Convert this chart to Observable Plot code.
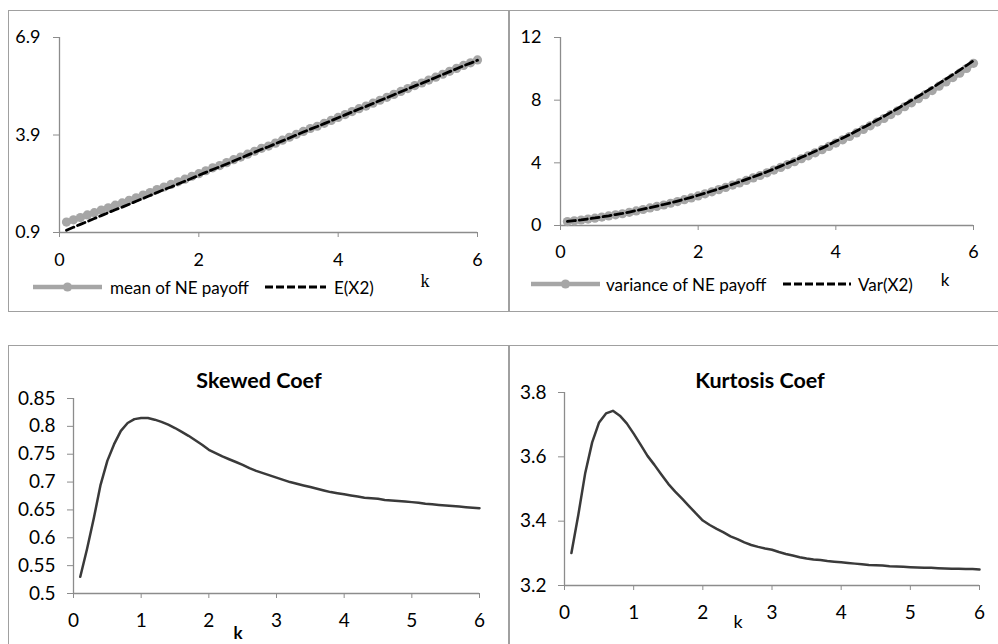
<!DOCTYPE html>
<html><head><meta charset="utf-8">
<script src="https://cdn.jsdelivr.net/npm/d3@7"></script>
<script src="https://cdn.jsdelivr.net/npm/@observablehq/plot@0.6"></script>
<style>
html,body{margin:0;padding:0;background:#fff;}
#root{position:relative;width:998px;height:644px;overflow:hidden;font-family:Lato,"Open Sans",sans-serif;color:#000;}
.frame{position:absolute;border:1.5px solid #a0a0a0;box-sizing:border-box;}
.lbl{position:absolute;white-space:nowrap;line-height:1;}
svg.leg{position:absolute;overflow:visible;}
</style></head><body><div id="root"></div>
<script>
// ---- data ----
const k = [0.1,0.2,0.3,0.4,0.5,0.6,0.7,0.8,0.9,1.0,1.1,1.2,1.3,1.4,1.5,1.6,1.7,1.8,1.9,2.0,
  2.1,2.2,2.3,2.4,2.5,2.6,2.7,2.8,2.9,3.0,3.1,3.2,3.3,3.4,3.5,3.6,3.7,3.8,3.9,4.0,
  4.1,4.2,4.3,4.4,4.5,4.6,4.7,4.8,4.9,5.0,5.1,5.2,5.3,5.4,5.5,5.6,5.7,5.8,5.9,6.0];
const meanNE = [1.22,1.29,1.36,1.44,1.51,1.59,1.66,1.74,1.81,1.89,1.97,2.05,2.13,2.22,2.30,2.38,2.46,2.54,2.63,2.71,
  2.80,2.89,2.96,3.05,3.14,3.22,3.31,3.40,3.49,3.56,3.65,3.74,3.83,3.92,4.01,4.10,4.17,4.26,4.35,4.44,
  4.53,4.62,4.71,4.79,4.88,4.97,5.06,5.15,5.24,5.33,5.42,5.50,5.59,5.68,5.77,5.86,5.95,6.04,6.12,6.21];
const EX2 = [0.97,1.06,1.15,1.24,1.33,1.42,1.51,1.60,1.68,1.77,1.86,1.95,2.04,2.13,2.22,2.30,2.39,2.48,2.57,2.66,
  2.75,2.84,2.92,3.01,3.10,3.19,3.28,3.37,3.46,3.54,3.63,3.72,3.81,3.90,3.99,4.08,4.16,4.25,4.34,4.43,
  4.52,4.61,4.70,4.78,4.87,4.96,5.05,5.14,5.23,5.32,5.41,5.49,5.58,5.67,5.76,5.85,5.94,6.03,6.11,6.20];
const varNE = [0.25,0.30,0.35,0.41,0.47,0.54,0.61,0.68,0.75,0.84,0.93,1.02,1.12,1.22,1.31,1.42,1.53,1.65,1.76,1.89,
  2.02,2.15,2.29,2.43,2.58,2.72,2.88,3.04,3.19,3.36,3.54,3.71,3.89,4.07,4.26,4.45,4.64,4.84,5.05,5.26,
  5.47,5.68,5.91,6.13,6.36,6.60,6.83,7.08,7.32,7.58,7.83,8.09,8.35,8.61,8.89,9.16,9.44,9.72,10.02,10.35];
const varX2 = [0.26,0.31,0.36,0.42,0.48,0.55,0.62,0.70,0.77,0.86,0.95,1.04,1.14,1.24,1.34,1.45,1.56,1.68,1.80,1.93,
  2.06,2.20,2.34,2.48,2.63,2.78,2.94,3.10,3.26,3.43,3.61,3.79,3.97,4.15,4.35,4.54,4.74,4.94,5.15,5.37,
  5.58,5.80,6.03,6.26,6.49,6.73,6.97,7.22,7.47,7.73,7.99,8.25,8.52,8.79,9.07,9.35,9.63,9.92,10.22,10.52];
const skewCoef = [0.530,0.580,0.635,0.695,0.738,0.768,0.792,0.806,0.813,0.815,0.815,0.812,0.808,0.803,0.797,0.790,0.783,0.775,0.767,0.758,
  0.752,0.746,0.741,0.736,0.731,0.725,0.720,0.716,0.712,0.708,0.704,0.700,0.697,0.694,0.691,0.688,0.685,0.682,0.680,0.678,
  0.676,0.674,0.672,0.671,0.670,0.668,0.667,0.666,0.665,0.664,0.663,0.661,0.660,0.659,0.658,0.657,0.656,0.655,0.654,0.653];
const kurtCoef = [3.301,3.420,3.550,3.645,3.707,3.735,3.743,3.728,3.704,3.672,3.638,3.603,3.575,3.545,3.516,3.492,3.470,3.447,3.424,3.402,
  3.388,3.376,3.365,3.353,3.344,3.334,3.326,3.320,3.315,3.311,3.304,3.298,3.293,3.288,3.284,3.281,3.279,3.276,3.274,3.272,
  3.270,3.268,3.266,3.264,3.263,3.262,3.260,3.259,3.258,3.257,3.256,3.255,3.255,3.254,3.253,3.252,3.252,3.251,3.251,3.250];
const ticksXTop = [0,2,4,6];
const ticksXBottom = [0,1,2,3,4,5,6];
const ticksMean = [0.9,3.9,6.9];
const ticksVar = [0,4,8,12];
const ticksSkew = [0.5,0.55,0.6,0.65,0.7,0.75,0.8,0.85];
const ticksKurt = [3.2,3.4,3.6,3.8];
const titles = ["Skewed Coef","Kurtosis Coef"];
const legendTop = [["mean of NE payoff","E(X2)"],["variance of NE payoff","Var(X2)"]];

// ---- drawing ----
const root = document.getElementById("root");
const AX = "#8c8c8c", GRAY = "#a6a6a6", CURVE = "#3a3a3a";
const rows = arr => k.map((x,i)=>({k:x, v:arr[i]}));

function frame(l,t,w,h){const d=document.createElement("div");d.className="frame";
  Object.assign(d.style,{left:l+"px",top:t+"px",width:w+"px",height:h+"px"});root.append(d);}
frame(8,10,502,302); frame(508,10,500,302);
frame(8,345,502,310); frame(508,345,500,310);

function panel(o){
  const p = Plot.plot({
    width:o.width, height:o.height,
    marginLeft:o.ml, marginRight:o.mr, marginTop:o.mt, marginBottom:o.mb,
    x:{domain:o.xDomain}, y:{domain:o.yDomain},
    style:{fontFamily:"Lato, sans-serif", fontSize:o.fs+"px", color:"#000", background:"transparent", overflow:"visible"},
    marks:[
      Plot.ruleY([o.yDomain[0]],{stroke:AX, strokeWidth:1.3}),
      Plot.ruleX([o.xDomain[0]],{y1:o.yDomain[0], y2:o.yDomain[1], stroke:AX, strokeWidth:1.3}),
      Plot.axisX(o.xTicks,{tickSize:5, tickPadding:o.xPad, stroke:AX, fill:"#000", fontSize:o.fs, label:null}),
      Plot.axisY(o.yTicks,{tickSize:6, tickPadding:o.yPad, stroke:AX, fill:"#000", fontSize:o.fs, label:null, tickFormat:o.fmt}),
      ...o.marks
    ]
  });
  p.style.position="absolute"; p.style.left=o.left+"px"; p.style.top=o.top+"px";
  root.append(p);
}

// top-left
panel({left:0, top:0, width:500, height:300, ml:59, mr:23, mt:37, mb:68,
  xDomain:[0,6], yDomain:[0.9,6.9], xTicks:ticksXTop, yTicks:ticksMean, fs:18, xPad:16, yPad:13, fmt:d=>d.toFixed(1),
  marks:[
    Plot.line(rows(meanNE),{x:"k",y:"v",stroke:GRAY,strokeWidth:5}),
    Plot.dot(rows(meanNE),{x:"k",y:"v",r:4.6,fill:GRAY}),
    Plot.line(rows(EX2),{x:"k",y:"v",stroke:"#000",strokeWidth:2.8,strokeDasharray:"8,4"})
  ]});
// top-right
panel({left:500, top:0, width:498, height:300, ml:60, mr:25, mt:37, mb:75,
  xDomain:[0,6], yDomain:[0,12], xTicks:ticksXTop, yTicks:ticksVar, fs:18, xPad:15, yPad:13, fmt:d=>String(d),
  marks:[
    Plot.line(rows(varNE),{x:"k",y:"v",stroke:GRAY,strokeWidth:5}),
    Plot.dot(rows(varNE),{x:"k",y:"v",r:4.6,fill:GRAY}),
    Plot.line(rows(varX2),{x:"k",y:"v",stroke:"#000",strokeWidth:2.8,strokeDasharray:"8,4"})
  ]});
// bottom-left
panel({left:0, top:350, width:500, height:294, ml:73, mr:21, mt:48, mb:51,
  xDomain:[0,6], yDomain:[0.5,0.85], xTicks:ticksXBottom, yTicks:ticksSkew, fs:19, xPad:15, yPad:12, fmt:d=>String(d),
  marks:[ Plot.line(rows(skewCoef),{x:"k",y:"v",stroke:CURVE,strokeWidth:2.5}) ]});
// bottom-right
panel({left:500, top:350, width:498, height:294, ml:64, mr:19, mt:42, mb:59,
  xDomain:[0,6], yDomain:[3.2,3.8], xTicks:ticksXBottom, yTicks:ticksKurt, fs:19, xPad:15, yPad:12, fmt:d=>d.toFixed(1),
  marks:[ Plot.line(rows(kurtCoef),{x:"k",y:"v",stroke:CURVE,strokeWidth:2.5}) ]});

// labels
function label(text,x,y,style,anchor){const d=document.createElement("div");d.className="lbl";d.textContent=text;
  Object.assign(d.style,{left:x+"px",top:y+"px",transform:anchor==="start"?"translate(0,-50%)":"translate(-50%,-50%)"},style);root.append(d);}
label(titles[0],259,381,{fontSize:"21.5px",fontWeight:"bold"});
label(titles[1],760,381,{fontSize:"21.5px",fontWeight:"bold"});
label("k",425,281,{fontSize:"18px",fontFamily:"'Liberation Serif',serif"});
label("k",945,279,{fontSize:"17px"});
label("k",238,632,{fontSize:"17px",fontWeight:"bold"});
label("k",738,621,{fontSize:"18px"});

function legend(y, names, pos){
  const s = document.createElementNS("http://www.w3.org/2000/svg","svg");
  s.setAttribute("class","leg"); s.setAttribute("width",998); s.setAttribute("height",20);
  s.style.left="0px"; s.style.top=(y-10)+"px";
  s.innerHTML =
    `<line x1="${pos.l0}" x2="${pos.l1}" y1="10" y2="10" stroke="${GRAY}" stroke-width="4.5"/>`+
    `<circle cx="${(pos.l0+pos.l1)/2}" cy="10" r="4.6" fill="${GRAY}"/>`+
    `<line x1="${pos.d0}" x2="${pos.d1}" y1="10" y2="10" stroke="#000" stroke-width="2.8" stroke-dasharray="8,3"/>`;
  root.append(s);
  label(names[0], pos.t0, y, {fontSize:"17px"}, "start");
  label(names[1], pos.t1, y, {fontSize:"17px"}, "start");
}
legend(287, legendTop[0], {l0:33, l1:102, t0:110, d0:265, d1:326, t1:334});
legend(284, legendTop[1], {l0:531, l1:600, t0:606, d0:783, d1:851, t1:858});
</script></body></html>
